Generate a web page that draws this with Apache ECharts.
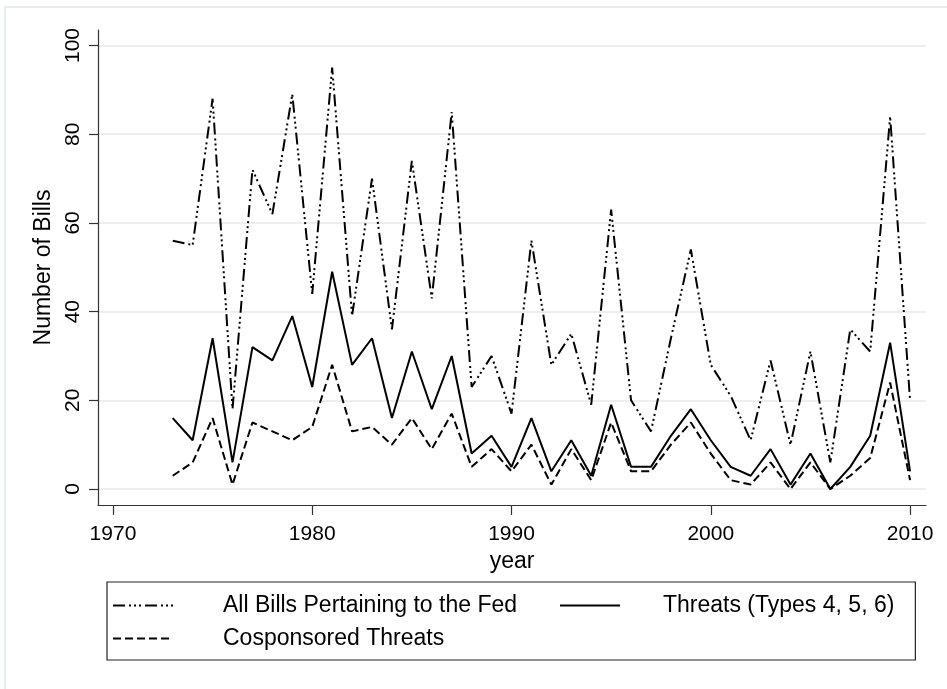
<!DOCTYPE html>
<html>
<head>
<meta charset="utf-8">
<script src="https://cdn.jsdelivr.net/npm/echarts@6/dist/echarts.min.js"></script>
<style>
  html, body { margin: 0; padding: 0; background: #fff; }
  #chart { width: 947px; height: 689px; }
</style>
</head>
<body>
<div id="chart"></div>
<script>
// bills per year
const years = [1973, 1974, 1975, 1976, 1977, 1978, 1979, 1980, 1981, 1982, 1983, 1984, 1985, 1986, 1987, 1988, 1989, 1990, 1991,
  1992, 1993, 1994, 1995, 1996, 1997, 1998, 1999, 2000, 2001, 2002, 2003, 2004, 2005, 2006, 2007, 2008, 2009, 2010];
const allBills = [56, 55, 88, 18, 72, 62, 89, 44, 95, 39, 70, 36, 74, 43, 85, 23, 30, 17, 56,
  28, 35, 19, 63, 20, 13, 34, 54, 28, 21, 11, 29, 10, 31, 6, 36, 31, 84, 20];
const threats = [16, 11, 34, 6, 32, 29, 39, 23, 49, 28, 34, 16, 31, 18, 30, 8, 12, 5, 16,
  4, 11, 3, 19, 5, 5, 12, 18, 11, 5, 3, 9, 1, 8, 0, 5, 12, 33, 4];
const cosponsored = [3, 6, 16, 1, 15, 13, 11, 14, 28, 13, 14, 10, 16, 9, 17, 5, 9, 4, 10,
  1, 9, 2, 15, 4, 4, 10, 15, 8, 2, 1, 6, 0, 6, 0, 3, 7, 24, 2];
const seriesNames = ["All Bills Pertaining to the Fed", "Threats (Types 4, 5, 6)", "Cosponsored Threats"];
const xTicks = [1970, 1980, 1990, 2000, 2010];
const yTicks = [0, 20, 40, 60, 80, 100];

const font = "'Liberation Sans', Arial, sans-serif";
const pairs = values => years.map((year, i) => [year, values[i]]);
const chart = echarts.init(document.getElementById("chart"), null, { renderer: "canvas" });

chart.setOption({
  animation: false,
  backgroundColor: "#fff",
  graphic: [{
    type: "rect", silent: true, z: -1,
    shape: { x: 5, y: 7, width: 1000, height: 1000 },
    style: { fill: "none", stroke: "#e6edf0", lineWidth: 2 },
  }],
  grid: { left: 98, right: 21, top: 30, bottom: 184, containLabel: false },
  legend: {
    left: 107, top: 582, orient: "horizontal", width: 800,
    padding: [12, 21, 10, 5],
    borderColor: "#222", borderWidth: 1.2, borderRadius: 0,
    itemWidth: 60, itemHeight: 14, itemGap: 10,
    itemStyle: { opacity: 0 },
    // Stata leaves a wide gap after the first column; pad it with blank space
    formatter: name => name === seriesNames[0] ? `${name}\u00a0\u00a0\u00a0\u00a0\u00a0` : name,
    textStyle: { fontFamily: font, fontSize: 23, color: "#000", padding: [0, 0, 0, 45] },
    data: [
      { name: seriesNames[0] },
      { name: seriesNames[1], textStyle: { padding: [0, 0, 0, 38] } },
      { name: seriesNames[2] },
    ],
  },
  xAxis: {
    type: "value", min: 1969.25, max: 2010.8,
    name: "year", nameLocation: "middle", nameGap: 42,
    nameTextStyle: { fontFamily: font, fontSize: 23, color: "#000" },
    axisLine: { show: true, onZero: false, lineStyle: { color: "#333", width: 1.2 } },
    axisTick: { show: true, length: 10, customValues: xTicks, lineStyle: { color: "#333", width: 1.2 } },
    axisLabel: { customValues: xTicks, formatter: v => String(v), margin: 19, fontFamily: font, fontSize: 21, color: "#000" },
    splitLine: { show: false },
  },
  yAxis: {
    type: "value", min: -3.6, max: 103.5,
    name: "Number of Bills", nameLocation: "middle", nameGap: 42, nameRotate: 90,
    nameTextStyle: { fontFamily: font, fontSize: 23, color: "#000" },
    axisLine: { show: true, onZero: false, lineStyle: { color: "#333", width: 1.2 } },
    axisTick: { show: true, length: 9, customValues: yTicks, lineStyle: { color: "#333", width: 1.2 } },
    axisLabel: { customValues: yTicks, formatter: v => String(v), rotate: 90, margin: 14, fontFamily: font, fontSize: 21, color: "#000" },
    splitLine: { show: true, lineStyle: { color: "#e8e8e8", width: 1.5 } },
  },
  series: [
    {
      name: seriesNames[0], type: "line", data: pairs(allBills), symbol: "none",
      lineStyle: { color: "#000", width: 2, type: [12, 4, 2, 3, 2, 3, 2, 4] },
      itemStyle: { color: "#000" },
    },
    {
      name: seriesNames[1], type: "line", data: pairs(threats), symbol: "none",
      lineStyle: { color: "#000", width: 2, type: "solid" },
      itemStyle: { color: "#000" },
    },
    {
      name: seriesNames[2], type: "line", data: pairs(cosponsored), symbol: "none",
      lineStyle: { color: "#000", width: 2, type: [8, 4] },
      itemStyle: { color: "#000" },
    },
  ],
});
</script>
</body>
</html>
